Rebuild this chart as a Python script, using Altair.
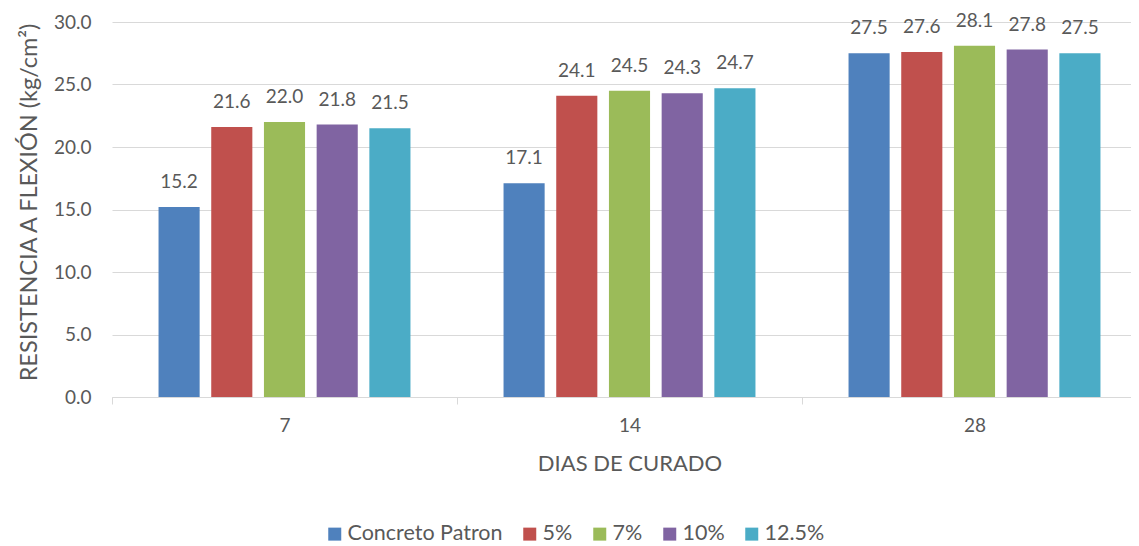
import altair as alt
import pandas as pd

days = ["7", "14", "28"]
series = ["Concreto Patron", "5%", "7%", "10%", "12.5%"]
patron = [15.2, 17.1, 27.5]
p5 = [21.6, 24.1, 27.6]
p7 = [22.0, 24.5, 28.1]
p10 = [21.8, 24.3, 27.8]
p125 = [21.5, 24.7, 27.5]
colors = ["#4F81BD", "#C0504D", "#9BBB59", "#8064A2", "#4BACC6"]

rows = []
for s, vals in zip(series, [patron, p5, p7, p10, p125]):
    for d, v in zip(days, vals):
        rows.append({"dia": d, "serie": s, "valor": v})
df = pd.DataFrame(rows)

TXT = "#595959"
GRID = "#D9D9D9"
FONT = "Lato"
ytitle = "RESISTENCIA A FLEXIÓN (kg/cm²)"

base = alt.Chart(df)

xenc = alt.X(
    "dia:N",
    sort=days,
    scale=alt.Scale(paddingInner=0, paddingOuter=0, range=[0, 1035]),
    axis=alt.Axis(
        title="DIAS DE CURADO",
        labelAngle=0,
        tickBand="extent",
        domainColor=GRID,
        tickColor=GRID,
        tickSize=7,
        labelFontSize=19,
        labelColor=TXT,
        labelPadding=12,
        titleFontSize=22,
        titleFontWeight="normal",
        titleColor=TXT,
        titlePadding=18,
    ),
)
xoff = alt.XOffset(
    "serie:N",
    sort=series,
    scale=alt.Scale(domain=series, paddingInner=0.22, paddingOuter=0.883),
)

bars = base.mark_bar().encode(
    x=xenc,
    xOffset=xoff,
    y=alt.Y(
        "valor:Q",
        scale=alt.Scale(domain=[0, 30], nice=False),
        axis=alt.Axis(
            title=ytitle,
            values=[0, 5, 10, 15, 20, 25, 30],
            format=".1f",
            domain=False,
            ticks=False,
            gridColor=GRID,
            labelFontSize=19,
            labelColor=TXT,
            labelPadding=21,
            titleFontSize=23.5,
            titleFontWeight="normal",
            titleColor=TXT,
            titlePadding=12,
            titleY=180,
        ),
    ),
    color=alt.Color(
        "serie:N",
        sort=series,
        scale=alt.Scale(domain=series, range=colors),
        legend=alt.Legend(
            title=None,
            orient="none",
            direction="horizontal",
            legendX=212,
            legendY=501,
            symbolType="square",
            symbolSize=169,
            symbolStrokeWidth=0,
            labelFontSize=21.5,
            labelColor=TXT,
            labelOffset=2,
            columnPadding=16,
        ),
    ),
)

labels = base.mark_text(fontSize=19, color=TXT, baseline="middle", dy=-25).encode(
    x=alt.X("dia:N", sort=days),
    xOffset=alt.XOffset("serie:N", sort=series),
    y=alt.Y("valor:Q", title=ytitle),
    text=alt.Text("valor:Q", format=".1f"),
)

chart = alt.layer(bars, labels).properties(
    width=1019,
    height=375,
    autosize=alt.AutoSizeParams(type="none"),
    padding={"left": 104, "top": 14, "right": 0, "bottom": 149},
).configure(font=FONT).configure_view(stroke=None)

chart.save("out.html", embed_options={"renderer": "svg", "actions": False})
